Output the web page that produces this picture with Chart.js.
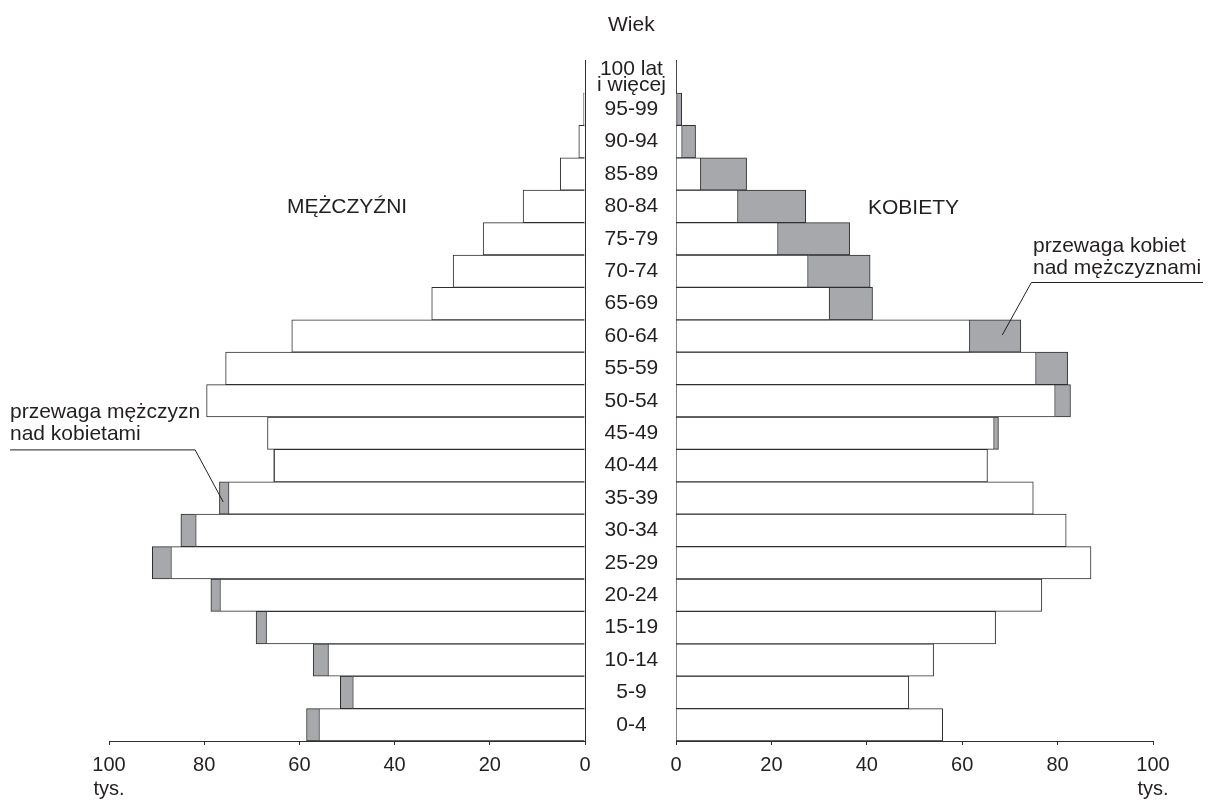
<!DOCTYPE html>
<html><head><meta charset="utf-8">
<script src="https://cdn.jsdelivr.net/npm/chart.js@4.4.1/dist/chart.umd.min.js"></script>
<style>
html,body{margin:0;padding:0;background:#fff;}
#wrap{position:relative;width:1208px;height:800px;overflow:hidden;}
#wrap canvas{position:absolute;left:0;top:0;}
</style></head><body>
<div id="wrap"><canvas id="cm" width="1208" height="800"></canvas><canvas id="ck" width="1208" height="800"></canvas></div>
<script>
// Age groups, youngest first (drawn from the bottom up)
const ageGroups = ['0-4','5-9','10-14','15-19','20-24','25-29','30-34','35-39','40-44','45-49',
  '50-54','55-59','60-64','65-69','70-74','75-79','80-84','85-89','90-94','95-99',['100 lat','i więcej']];
// Population in thousands
const men   = [58.5,51.4,57.1,69.1,78.6,90.9,84.9,76.8,65.4,66.7,79.5,75.5,61.6,32.2,27.7,21.4,13.0,5.2,1.3,0.3,0.0];
const women = [55.9,48.8,54.0,67.0,76.7,87.0,81.8,74.9,65.3,67.6,82.7,82.1,72.3,41.2,40.7,36.4,27.2,14.8,4.1,1.2,0.1];
const xTicks = [0,20,40,60,80,100];
const unitLabel = 'tys.';

const common = men.map((m,i)=>Math.min(m,women[i]));
const menExcess = men.map((m,i)=>Math.max(0,m-women[i]));
const womenExcess = women.map((w,i)=>Math.max(0,w-men[i]));

const FONT = '"Liberation Sans", Arial, Helvetica, sans-serif';
const INK = '#231f20';
const GREY = '#a7a8ab';
const EDGE = '#2e2e2e';
Chart.defaults.font.family = FONT;
Chart.defaults.color = INK;

function xAxis(reverse){
  return {
    type:'linear', min:0, max:100, reverse:reverse, stacked:true,
    afterBuildTicks: s => { s.ticks = xTicks.map(v=>({value:v})); },
    afterFit: s => { s.height = 59; },
    grid:{display:true, drawOnChartArea:false, drawTicks:true, tickLength:4, color:EDGE, lineWidth:1},
    border:{display:true, color:EDGE, width:1},
    ticks:{font:{size:20, lineHeight:1.2}, color:INK, padding:8, maxRotation:0, autoSkip:false,
      callback: v => v===100 ? ['100', unitLabel] : String(v)}
  };
}

function datasets(excess){
  return [
    {label:'wspólne', data:common, backgroundColor:'#ffffff', borderColor:EDGE, borderWidth:1,
     barPercentage:1, categoryPercentage:1},
    {label:'przewaga', data:excess, backgroundColor:GREY, borderColor:EDGE, borderWidth:1,
     barPercentage:1, categoryPercentage:1}
  ];
}

function text(ctx, s, x, y, align){
  ctx.save();
  ctx.font = '21px ' + FONT;
  ctx.fillStyle = INK;
  ctx.textAlign = align || 'left';
  ctx.textBaseline = 'alphabetic';
  ctx.fillText(s, x, y);
  ctx.restore();
}
function polyline(ctx, pts){
  ctx.save();
  ctx.strokeStyle = INK; ctx.lineWidth = 1;
  ctx.beginPath();
  pts.forEach((p,i)=> i ? ctx.lineTo(p[0],p[1]) : ctx.moveTo(p[0],p[1]));
  ctx.stroke();
  ctx.restore();
}

const leftDeco = {
  id:'leftDeco',
  afterDraw(chart){
    const ctx = chart.ctx, x = chart.scales.x, y = chart.scales.y;
    text(ctx, 'Wiek', 608, 31);
    text(ctx, 'MĘŻCZYŹNI', 287, 213);
    text(ctx, 'przewaga mężczyzn', 10, 418);
    text(ctx, 'nad kobietami', 10, 440);
    const i3539 = ageGroups.indexOf('35-39');
    const yb = (y.getPixelForValue(ageGroups.indexOf('40-44')) + y.getPixelForValue(ageGroups.indexOf('45-49')))/2 + 0.5;
    polyline(ctx, [[10,yb],[x.getPixelForValue(81.9),yb],[x.getPixelForValue(76),y.getPixelForValue(i3539)+4]]);
  }
};
const rightDeco = {
  id:'rightDeco',
  afterDraw(chart){
    const ctx = chart.ctx, x = chart.scales.x, y = chart.scales.y;
    text(ctx, 'KOBIETY', 868, 214);
    text(ctx, 'przewaga kobiet', 1033, 252);
    text(ctx, 'nad mężczyznami', 1033, 274);
    const i6064 = ageGroups.indexOf('60-64');
    const ye = 282.5;
    polyline(ctx, [[1203,ye],[x.getPixelForValue(74.5),ye],[x.getPixelForValue(68.4),y.getPixelForValue(i6064)-1]]);
  }
};

new Chart(document.getElementById('cm'), {
  type:'bar',
  data:{labels:ageGroups, datasets:datasets(menExcess)},
  options:{
    indexAxis:'y', responsive:false, animation:false, devicePixelRatio:1,
    layout:{padding:{left:109, right:532, top:60.6, bottom:0}},
    plugins:{legend:{display:false}, tooltip:{enabled:false}},
    scales:{
      x: xAxis(true),
      y:{type:'category', position:'right', reverse:true, stacked:true,
        afterFit: s => { s.width = 91; },
        grid:{display:false, drawTicks:false, drawOnChartArea:false},
        border:{display:true, color:EDGE, width:1},
        ticks:{crossAlign:'center', padding:12, font:{size:21, lineHeight:0.76}, color:INK, autoSkip:false}}
    }
  },
  plugins:[leftDeco]
});

new Chart(document.getElementById('ck'), {
  type:'bar',
  data:{labels:ageGroups, datasets:datasets(womenExcess)},
  options:{
    indexAxis:'y', responsive:false, animation:false, devicePixelRatio:1,
    layout:{padding:{left:676, right:55, top:60.6, bottom:0}},
    plugins:{legend:{display:false}, tooltip:{enabled:false}},
    scales:{
      x: xAxis(false),
      y:{type:'category', position:'left', reverse:true, stacked:true,
        afterFit: s => { s.width = 0; },
        grid:{display:false, drawTicks:false, drawOnChartArea:false},
        border:{display:true, color:EDGE, width:1},
        ticks:{display:false}}
    }
  },
  plugins:[rightDeco]
});
</script>
</body></html>
